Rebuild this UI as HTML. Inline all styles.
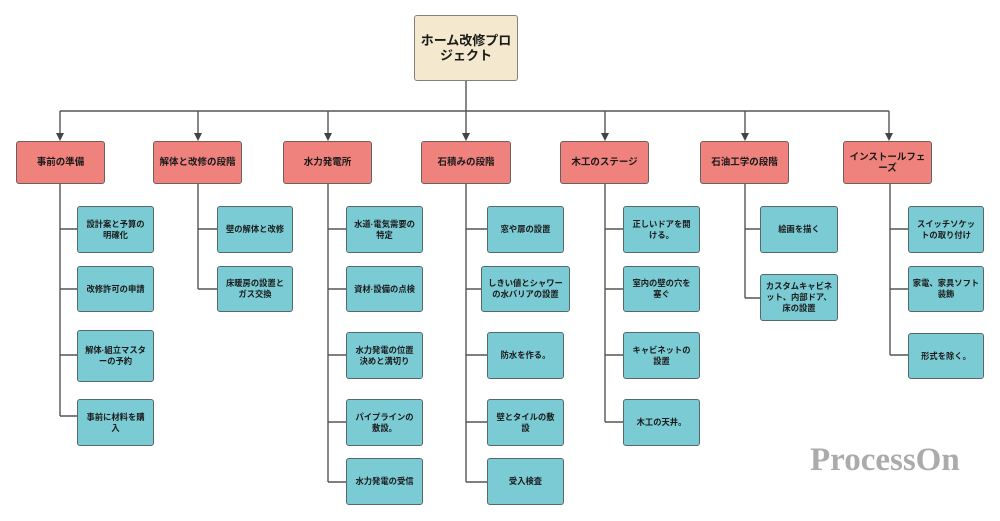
<!DOCTYPE html>
<html><head><meta charset="utf-8">
<style>
html,body{margin:0;padding:0;background:#fff;}
body{width:1000px;height:521px;position:relative;overflow:hidden;font-family:"Liberation Sans","Noto Sans CJK JP",sans-serif;}
.b{position:absolute;box-sizing:border-box;display:flex;align-items:center;justify-content:center;text-align:center;border-radius:3px;color:#1a1a1a;font-weight:bold;white-space:nowrap;}
.root{background:#f4e9ce;border:1.5px solid #86807a;font-size:13px;line-height:15px;}
.r{background:#f0827e;border:1.5px solid #6b6060;font-size:9.5px;line-height:11px;}
.t{background:#7bcbd4;border:1.5px solid #55686b;font-size:8.3px;line-height:11px;padding:0 1px;}
.wm{position:absolute;left:810px;top:442px;font-family:"Liberation Serif",serif;font-weight:bold;font-size:33px;color:#ababab;}
svg{position:absolute;left:0;top:0;}
</style></head><body>
<svg width="1000" height="521" viewBox="0 0 1000 521">
<g stroke="#555" stroke-width="1.4" fill="none">
<path d="M466 81V111M60 111H889"/>
<path d="M60 111V134M198 111V134M328 111V134M466 111V134M605 111V134M745 111V134M889 111V134"/>
<path d="M60 184V416M60 229H77M60 289H77M60 355H77M60 416H77"/>
<path d="M198 184V289M198 229H217M198 289H217"/>
<path d="M328 184V482M328 229H346M328 289H346M328 355H346M328 422H346M328 482H346"/>
<path d="M466 184V482M466 229H487M466 289H481M466 355H487M466 422H487M466 482H487"/>
<path d="M605 184V422M605 229H623M605 289H623M605 355H623M605 422H623"/>
<path d="M745 184V298M745 229H760M745 298H760"/>
<path d="M890 184V355M890 229H908M890 289H908M890 355H908"/>
</g>
<g fill="#444">
<path d="M56 133H64L60 141Z"/><path d="M194 133H202L198 141Z"/><path d="M324 133H332L328 141Z"/>
<path d="M462 133H470L466 141Z"/><path d="M601 133H609L605 141Z"/><path d="M741 133H749L745 141Z"/>
<path d="M885 133H893L889 141Z"/>
</g>
</svg>

<div class="b root" style="left:414px;top:15px;width:104px;height:66px;">ホーム改修プロ<br>ジェクト</div>

<div class="b r" style="left:16px;top:141px;width:89px;height:43px;">事前の準備</div>
<div class="b r" style="left:153px;top:141px;width:89px;height:43px;">解体と改修の段階</div>
<div class="b r" style="left:283px;top:141px;width:89px;height:43px;">水力発電所</div>
<div class="b r" style="left:421px;top:141px;width:90px;height:43px;">石積みの段階</div>
<div class="b r" style="left:560px;top:141px;width:89px;height:43px;">木工のステージ</div>
<div class="b r" style="left:700px;top:141px;width:89px;height:43px;">石油工学の段階</div>
<div class="b r" style="left:843px;top:141px;width:89px;height:43px;">インストールフェ<br>ーズ</div>

<div class="b t" style="left:77px;top:206px;width:77px;height:47px;">設計案と予算の<br>明確化</div>
<div class="b t" style="left:77px;top:266px;width:77px;height:46px;">改修許可の申請</div>
<div class="b t" style="left:77px;top:330px;width:77px;height:52px;">解体·組立マスタ<br>ーの予約</div>
<div class="b t" style="left:77px;top:399px;width:77px;height:47px;">事前に材料を購<br>入</div>

<div class="b t" style="left:217px;top:206px;width:76px;height:47px;">壁の解体と改修</div>
<div class="b t" style="left:217px;top:266px;width:76px;height:46px;">床暖房の設置と<br>ガス交換</div>

<div class="b t" style="left:346px;top:206px;width:77px;height:47px;">水道·電気需要の<br>特定</div>
<div class="b t" style="left:346px;top:266px;width:77px;height:46px;">資材·設備の点検</div>
<div class="b t" style="left:346px;top:332px;width:77px;height:47px;">水力発電の位置<br>決めと溝切り</div>
<div class="b t" style="left:346px;top:399px;width:77px;height:47px;">パイプラインの<br>敷設。</div>
<div class="b t" style="left:346px;top:458px;width:77px;height:47px;">水力発電の受信</div>

<div class="b t" style="left:487px;top:206px;width:77px;height:47px;">窓や扉の設置</div>
<div class="b t" style="left:481px;top:266px;width:89px;height:46px;">しきい値とシャワー<br>の水バリアの設置</div>
<div class="b t" style="left:487px;top:332px;width:77px;height:47px;">防水を作る。</div>
<div class="b t" style="left:487px;top:399px;width:77px;height:47px;">壁とタイルの敷<br>設</div>
<div class="b t" style="left:487px;top:458px;width:77px;height:47px;">受入検査</div>

<div class="b t" style="left:623px;top:206px;width:77px;height:47px;">正しいドアを開<br>ける。</div>
<div class="b t" style="left:623px;top:266px;width:77px;height:46px;">室内の壁の穴を<br>塞ぐ</div>
<div class="b t" style="left:623px;top:332px;width:77px;height:47px;">キャビネットの<br>設置</div>
<div class="b t" style="left:623px;top:399px;width:77px;height:47px;">木工の天井。</div>

<div class="b t" style="left:760px;top:206px;width:78px;height:47px;">絵画を描く</div>
<div class="b t" style="left:760px;top:274px;width:78px;height:47px;">カスタムキャビネ<br>ット、内部ドア、<br>床の設置</div>

<div class="b t" style="left:908px;top:206px;width:76px;height:47px;">スイッチソケッ<br>トの取り付け</div>
<div class="b t" style="left:908px;top:266px;width:76px;height:46px;">家電、家具ソフト<br>装飾</div>
<div class="b t" style="left:908px;top:333px;width:76px;height:46px;">形式を除く。</div>

<div class="wm">ProcessOn</div>
</body></html>
